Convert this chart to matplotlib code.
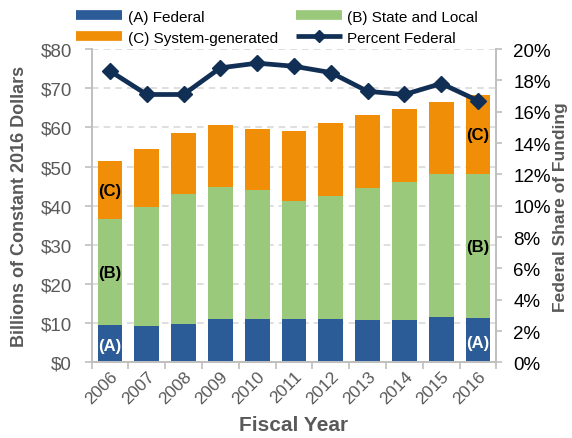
import matplotlib
matplotlib.use("Agg")
import matplotlib.pyplot as plt
import numpy as np
from matplotlib.lines import Line2D
from matplotlib.ticker import FuncFormatter

plt.rcParams["font.family"] = ["Liberation Sans", "DejaVu Sans"]

# ── Data (billions of constant 2016 dollars) ──────────────────────────────────
years    = ["2006", "2007", "2008", "2009", "2010", "2011",
            "2012", "2013", "2014", "2015", "2016"]
federal  = [9.5, 9.2, 9.8, 11.1, 11.1, 11.0, 11.1, 10.8, 10.9, 11.7, 11.3]
state    = [27.0, 30.5, 33.3, 33.7, 32.9, 30.1, 31.5, 33.8, 35.1, 36.4, 36.8]
system   = [15.0, 14.9, 15.4, 15.8, 15.7, 18.0, 18.4, 18.5, 18.6, 18.5, 20.1]
pct_fed  = [18.6, 17.1, 17.1, 18.8, 19.1, 18.9, 18.5, 17.3, 17.1, 17.8, 16.7]

C_FED, C_STATE, C_SYS = "#2b5c98", "#9bc97c", "#f08e08"
C_LINE = "#112f55"
GRAY = "#595959"
AXGRAY = "#bfbfbf"

fig = plt.figure(figsize=(5.72, 4.39), dpi=100)
ax = fig.add_axes([0.160, 0.172, 0.708, 0.714])
ax2 = ax.twinx()

x = np.arange(len(years))
fed = np.array(federal)
st = np.array(state)
sy = np.array(system)

ax.bar(x, fed, 0.67, color=C_FED, zorder=2)
ax.bar(x, st, 0.67, bottom=fed, color=C_STATE, zorder=2)
ax.bar(x, sy, 0.67, bottom=fed + st, color=C_SYS, zorder=2)

# segment labels on first and last bars
for i in (0, len(years) - 1):
    ax.text(x[i], fed[i] / 2 - 0.5, "(A)", color="white", fontsize=12,
            fontweight="bold", ha="center", va="center", zorder=3)
    ax.text(x[i], fed[i] + st[i] / 2, "(B)", color="black", fontsize=12,
            fontweight="bold", ha="center", va="center", zorder=3)
    ax.text(x[i], fed[i] + st[i] + sy[i] / 2, "(C)", color="black",
            fontsize=12, fontweight="bold", ha="center", va="center", zorder=3)

ax2.plot(x, pct_fed, color=C_LINE, lw=3.4, marker="D", ms=8.5, zorder=4)

ax.set_xlim(-0.5, len(years) - 0.5)
ax.set_ylim(0, 80)
ax2.set_ylim(0, 20)
ax.set_yticks(np.arange(0, 81, 10))
ax2.set_yticks(np.arange(0, 21, 2))
ax.yaxis.set_major_formatter(FuncFormatter(lambda v, p: f"${v:.0f}"))
ax2.yaxis.set_major_formatter(FuncFormatter(lambda v, p: f"{v:.0f}%"))

ax.grid(axis="y", color="#d9d9d9", ls=(0, (4, 3)), lw=1.2, zorder=0)
ax.set_axisbelow(True)

# x ticks at category boundaries, labels at centres
ax.set_xticks(np.arange(-0.5, len(years), 1.0))
ax.set_xticklabels([])
ax.set_xticks(x, minor=True)
ax.set_xticklabels(years, minor=True, rotation=45, ha="right",
                   rotation_mode="anchor", fontsize=12.5, color=GRAY)
ax.tick_params(axis="x", which="minor", length=0, pad=4)
ax.tick_params(axis="x", which="major", length=5, color=AXGRAY, width=1.2)
ax.tick_params(axis="y", labelsize=13.5, labelcolor=GRAY, color=AXGRAY,
               length=5, width=1.2, pad=9)
ax2.tick_params(axis="y", labelsize=13.5, labelcolor="black", color=AXGRAY,
                length=4, width=1.2, pad=8)

for a in (ax, ax2):
    a.spines["top"].set_visible(False)
    for s in ("left", "right", "bottom"):
        a.spines[s].set_color(AXGRAY)
        a.spines[s].set_linewidth(1.2)

ax.set_ylabel("Billions of Constant 2016 Dollars", fontsize=13,
              fontweight="bold", color=GRAY)
ax.yaxis.set_label_coords(-0.157, 0.5)
ax2.set_ylabel("Federal Share of Funding", fontsize=12.5,
               fontweight="bold", color=GRAY)
ax2.yaxis.set_label_coords(1.139, 0.5)
ax.set_xlabel("Fiscal Year", fontsize=15, fontweight="bold", color=GRAY)
ax.xaxis.set_label_coords(0.5, -0.168)

handles = [
    Line2D([], [], color=C_FED, lw=7, solid_capstyle="butt"),
    Line2D([], [], color=C_SYS, lw=7, solid_capstyle="butt"),
    Line2D([], [], color=C_STATE, lw=7, solid_capstyle="butt"),
    Line2D([], [], color=C_LINE, lw=3.4, marker="D", ms=6,
           solid_capstyle="butt"),
]
labels = ["(A) Federal", "(C) System-generated",
          "(B) State and Local", "Percent Federal"]
fig.legend(handles, labels, ncol=2, loc="upper left",
           bbox_to_anchor=(0.115, 1.0), frameon=False, fontsize=11,
           handlelength=3.0, handletextpad=0.35, columnspacing=1.2,
           labelspacing=0.45, borderaxespad=0.3)

fig.savefig("out.png", dpi=100)
